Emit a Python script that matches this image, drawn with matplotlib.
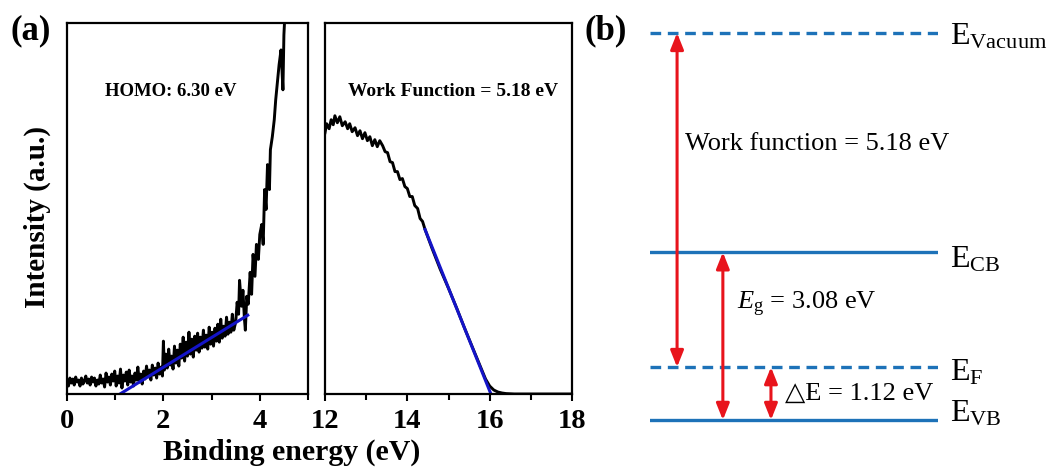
import numpy as np
import matplotlib.pyplot as plt

plt.rcParams['font.family'] = ['Liberation Serif', 'DejaVu Sans']
plt.rcParams['mathtext.fontset'] = 'custom'
plt.rcParams['mathtext.rm'] = 'Liberation Serif'
plt.rcParams['mathtext.it'] = 'Liberation Serif:italic'

# --------------------------------------------------
# (a) UPS spectra, intensity in arbitrary units
# --------------------------------------------------

homo_e = [0.00, 0.03, 0.06, 0.09, 0.12, 0.15, 0.18, 0.21, 0.24, 0.27,
          0.30, 0.33, 0.36, 0.39, 0.42, 0.45, 0.48, 0.51, 0.54, 0.57,
          0.60, 0.63, 0.66, 0.69, 0.72, 0.75, 0.78, 0.81, 0.84, 0.87,
          0.90, 0.93, 0.96, 0.99, 1.02, 1.05, 1.08, 1.11, 1.14, 1.17,
          1.20, 1.23, 1.26, 1.29, 1.32, 1.35, 1.38, 1.41, 1.44, 1.47,
          1.50, 1.53, 1.56, 1.59, 1.62, 1.65, 1.68, 1.71, 1.74, 1.77,
          1.80, 1.83, 1.86, 1.89, 1.92, 1.95, 1.98, 2.00, 2.02, 2.05,
          2.08, 2.11, 2.14, 2.17, 2.20, 2.23, 2.26, 2.29, 2.32, 2.35,
          2.38, 2.41, 2.44, 2.47, 2.50, 2.53, 2.56, 2.59, 2.62, 2.65,
          2.68, 2.71, 2.74, 2.77, 2.80, 2.83, 2.86, 2.89, 2.92, 2.95,
          2.98, 3.01, 3.04, 3.07, 3.10, 3.13, 3.16, 3.19, 3.22, 3.25,
          3.28, 3.31, 3.34, 3.37, 3.40, 3.43, 3.46, 3.50, 3.53, 3.56,
          3.58, 3.62, 3.65, 3.68, 3.70, 3.73, 3.76, 3.80, 3.83, 3.86,
          3.90, 3.93, 3.97, 4.00, 4.04, 4.07, 4.10, 4.13, 4.16, 4.20,
          4.22, 4.26, 4.30, 4.33, 4.37, 4.40, 4.44, 4.48, 4.50, 4.52,
          4.55]
homo_i = [13, 8, 16, 11, 15, 9, 17, 12, 14, 8,
          16, 10, 13, 18, 11, 15, 9, 17, 12, 16,
          8, 14, 10, 19, 11, 15, 7, 21, 12, 17,
          9, 20, 13, 23, 8, 18, 11, 25, 6, 19,
          13, 22, 9, 24, 12, 18, 8, 21, 14, 27,
          12, 20, 10, 23, 15, 28, 17, 24, 14, 29,
          19, 26, 16, 31, 20, 27, 18, 53, 24, 40,
          26, 45, 29, 38, 25, 48, 31, 44, 28, 50,
          36, 57, 33, 52, 38, 62, 40, 55, 37, 58,
          44, 61, 42, 57, 46, 64, 47, 59, 45, 67,
          50, 62, 48, 66, 53, 70, 52, 75, 56, 68,
          58, 77, 60, 72, 62, 80, 64, 72, 92, 80,
          114, 88, 104, 76, 64, 98, 90, 122, 100, 140,
          118, 150, 135, 160, 170, 150, 205, 185, 230, 205,
          245, 258, 275, 295, 315, 330, 345, 305, 360, 380,
          400]

wf_e = [12.00, 12.04, 12.10, 12.15, 12.20, 12.24, 12.30, 12.36, 12.42, 12.49,
        12.55, 12.60, 12.66, 12.73, 12.79, 12.85, 12.91, 12.97, 13.03, 13.09,
        13.15, 13.21, 13.27, 13.33, 13.40, 13.46, 13.52, 13.58, 13.64, 13.70,
        13.76, 13.82, 13.88, 13.94, 14.00, 14.06, 14.12, 14.18, 14.25, 14.31,
        14.37, 14.43, 14.60, 14.80, 15.00, 15.20, 15.40, 15.60, 15.80, 15.90,
        16.00, 16.10, 16.20, 16.30, 16.40, 16.60, 18.00]
wf_i = [262, 271, 266, 275, 270, 279, 272, 278, 269, 273,
        266, 271, 263, 267, 259, 264, 256, 262, 254, 258,
        249, 255, 248, 254, 249, 243, 242, 233, 232, 223,
        223, 215, 216, 208, 206, 198, 198, 189, 186, 176,
        173, 165, 146, 125, 106, 86, 65, 45, 25, 15,
        8, 4, 2, 1, 0.4, 0, 0]

# linear fits (blue)
homo_fit_e = [1.10, 3.75]
homo_fit_i = [0, 79]
wf_fit_e = [14.43, 16.03]
wf_fit_i = [165, 0]

# --------------------------------------------------
# (b) energy level diagram (schematic positions)
# --------------------------------------------------

levels = [0.0, -3.40, -5.18, -6.00]
level_names = [r'$\mathrm{E_{Vacuum}}$', r'$\mathrm{E_{CB}}$',
               r'$\mathrm{E_{F}}$', r'$\mathrm{E_{VB}}$']
level_dashed = [True, False, True, False]

W, H = 1052, 471
fig = plt.figure(figsize=(W / 100, H / 100), dpi=100)

def px_rect(x0, y0, x1, y1):
    return [x0 / W, 1 - y1 / H, (x1 - x0) / W, (y1 - y0) / H]

ax1 = fig.add_axes(px_rect(67, 23, 308, 394))
ax2 = fig.add_axes(px_rect(325, 23, 572, 394))

for ax in (ax1, ax2):
    ax.set_ylim(0, 372)
    ax.set_yticks([])
    for s in ax.spines.values():
        s.set_linewidth(1.6)
    ax.tick_params(axis='x', direction='out', length=5, width=1.5, pad=6,
                   labelsize=20.5)
    ax.tick_params(axis='x', which='minor', direction='out', length=4, width=1.5)

ax1.plot(homo_e, homo_i, color='black', lw=2.1)
ax1.plot(homo_fit_e, homo_fit_i, color='#1414c8', lw=2.2)
ax1.set_xlim(0, 5)
ax1.set_xticks([0, 2, 4])
ax1.set_xticks([1, 3, 5], minor=True)
ax1.set_xticklabels(['0', '2', '4'], fontweight='bold')
ax1.text(0.43, 0.815, 'HOMO: 6.30 eV', transform=ax1.transAxes,
         ha='center', va='center', fontsize=13.5, fontweight='bold')

ax2.plot(wf_e, wf_i, color='black', lw=2.1)
ax2.plot(wf_fit_e, wf_fit_i, color='#1414c8', lw=2.2)
ax2.set_xlim(12, 18)
ax2.set_xticks([12, 14, 16, 18])
ax2.set_xticks([13, 15, 17], minor=True)
ax2.set_xticklabels(['12', '14', '16', '18'], fontweight='bold')
ax2.text(0.52, 0.815, 'Work Function = 5.18 eV', transform=ax2.transAxes,
         ha='center', va='center', fontsize=14, fontweight='bold')

fig.text(292 / W, 1 - 452 / H, 'Binding energy (eV)', ha='center', va='center',
         fontsize=21.5, fontweight='bold')
fig.text(37 / W, 1 - 217 / H, 'Intensity (a.u.)', ha='center', va='center',
         rotation=90, fontsize=21, fontweight='bold')
fig.text(10 / W, 1 - 31 / H, '(a)', ha='left', va='center',
         fontsize=25, fontweight='bold')
fig.text(585 / W, 1 - 31 / H, '(b)', ha='left', va='center',
         fontsize=25, fontweight='bold')

# --------------------------------------------------
# panel (b)
# --------------------------------------------------

axb = fig.add_axes(px_rect(650, 20, 938, 440))
axb.set_xlim(0, 1)
axb.set_ylim(-6.31, 0.2)
axb.axis('off')

blue = '#1d72b8'
red = '#e8141c'
label_dy = [12, 15, 13, 2]
for lv, name, dashed, dy in zip(levels, level_names, level_dashed, label_dy):
    axb.plot([0, 1], [lv, lv], color=blue, lw=2.4,
             linestyle=(0, (3.2, 2)) if dashed else '-')
    axb.annotate(name, xy=(1, lv), xytext=(9, -dy * 0.72),
                 textcoords='offset points', ha='left', va='baseline',
                 fontsize=23, annotation_clip=False)

arrows = [(0.094, levels[0], levels[2]),
          (0.253, levels[1], levels[3]),
          (0.42, levels[2], levels[3])]
for x, y0, y1 in arrows:
    axb.annotate('', xy=(x, y1), xytext=(x, y0),
                 arrowprops=dict(arrowstyle='<|-|>,head_length=0.7,head_width=0.28',
                                 color=red, lw=2.2, shrinkA=0, shrinkB=0,
                                 mutation_scale=14))

axb.text(0.122, -1.81, 'Work function = 5.18 eV', ha='left', va='baseline',
         fontsize=19)
axb.text(0.302, -4.29, r'$E_{\mathrm{g}}$ = 3.08 eV', ha='left', va='baseline',
         fontsize=19)
axb.text(0.469, -5.69, '△E = 1.12 eV', ha='left', va='baseline',
         fontsize=19, family=['Liberation Serif', 'DejaVu Sans'])

fig.savefig('out.png', dpi=100)
